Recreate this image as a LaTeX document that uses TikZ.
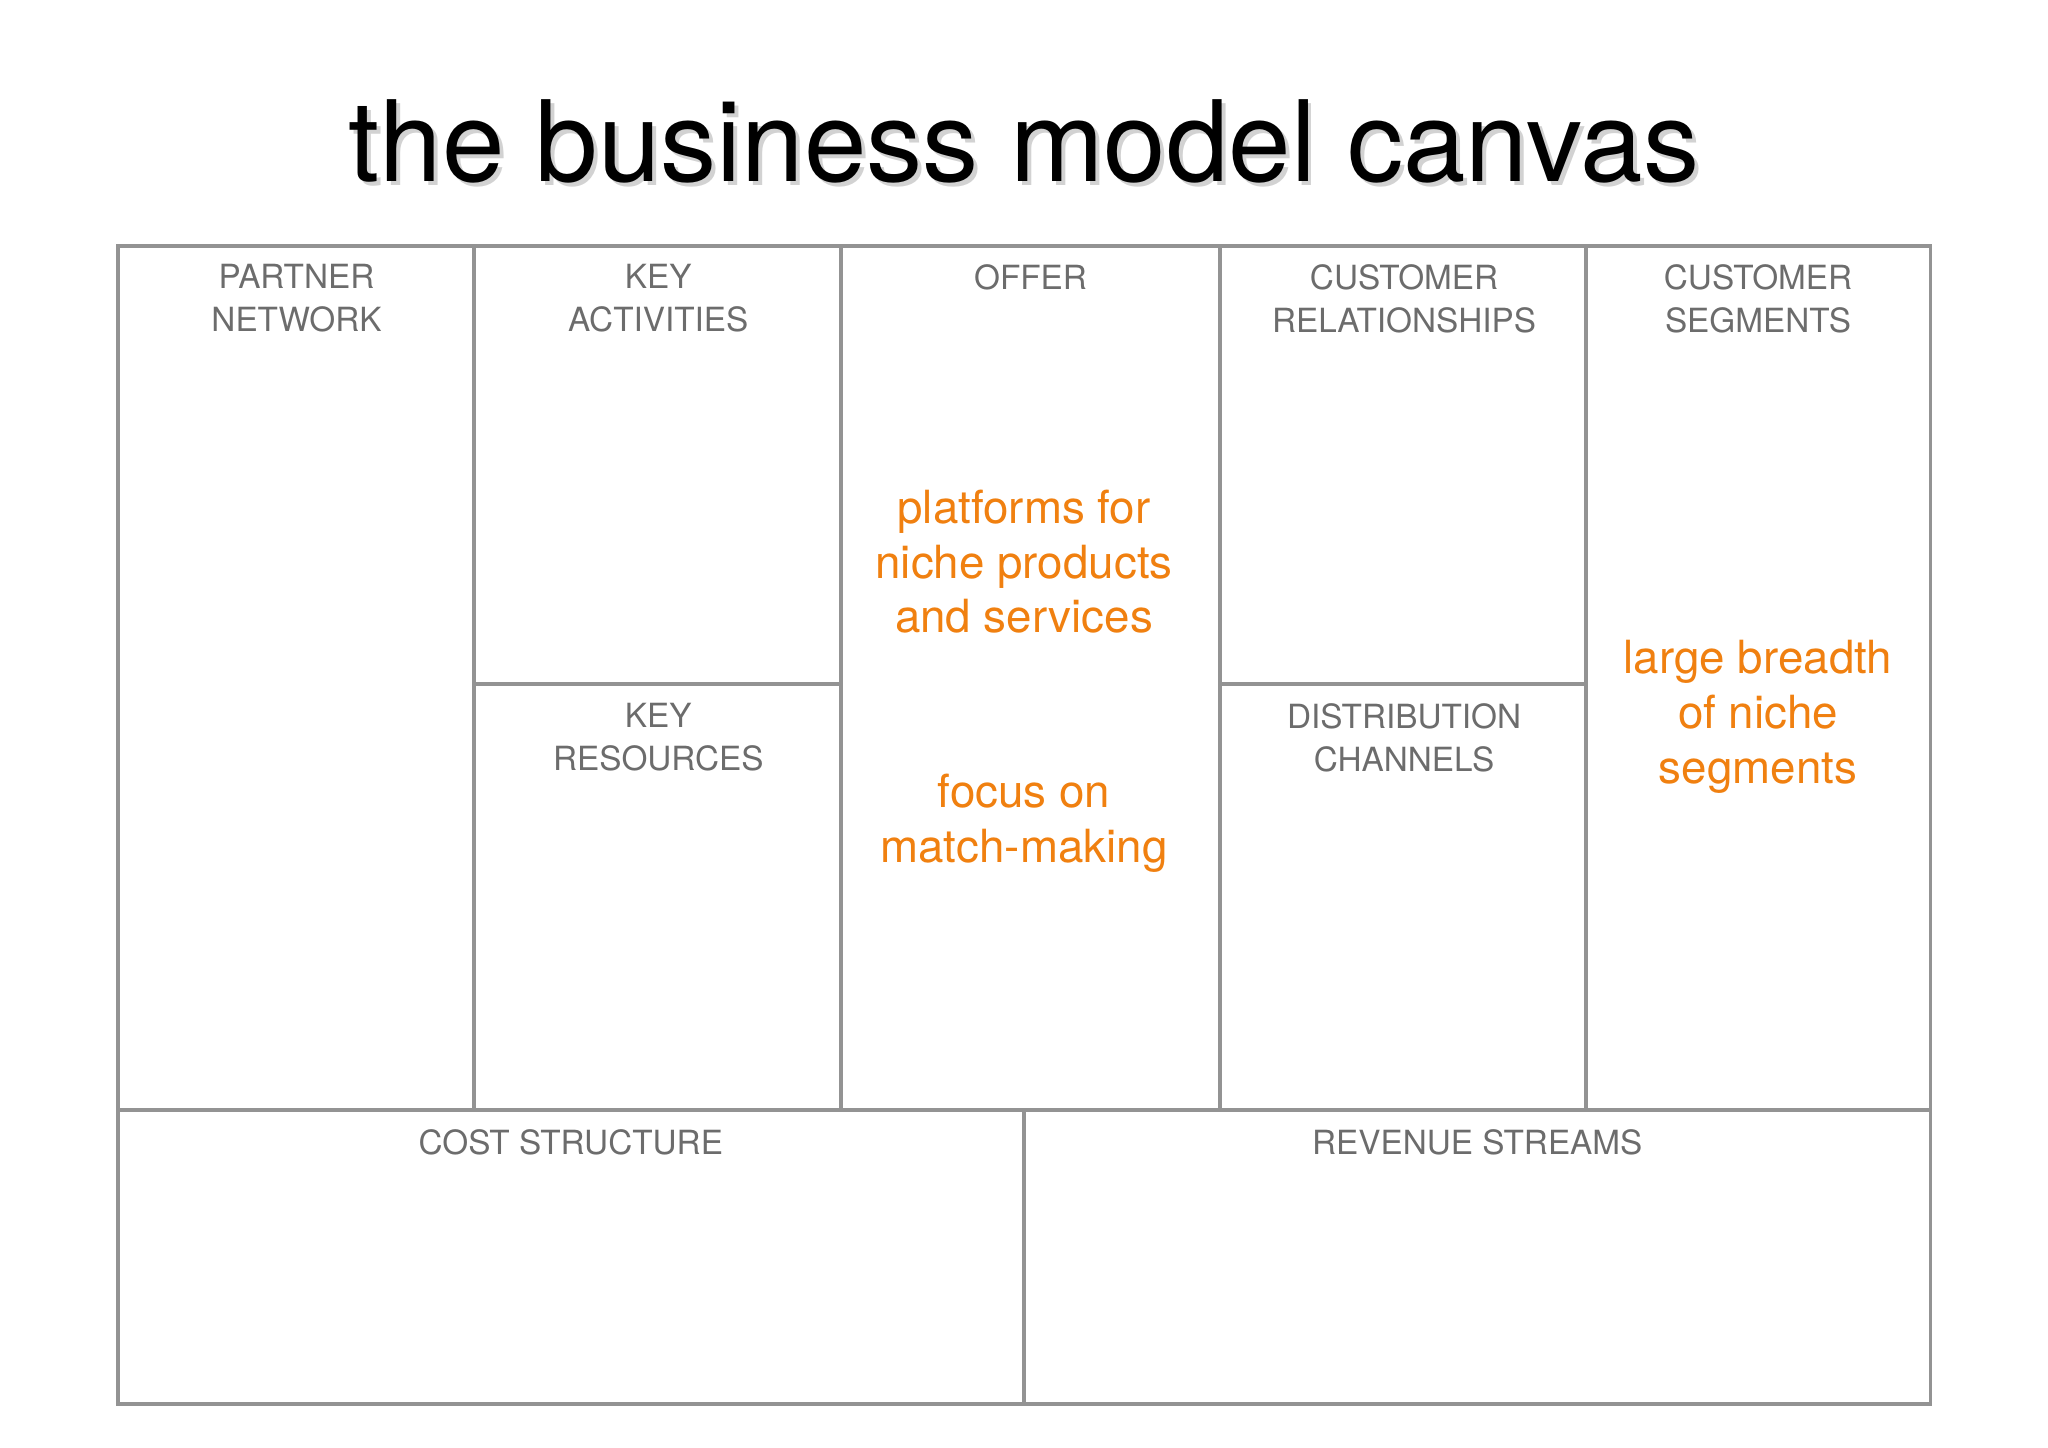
\documentclass[tikz,border=0pt]{standalone}
\usepackage{fontspec}
\setmainfont{TeX Gyre Heros}
\begin{document}
\begin{tikzpicture}[x=1pt,y=-1pt,
  ln/.style={draw=gray!85,line width=3pt},
  lab/.style={font=\fontsize{25.5}{33}\selectfont,text=gray!85!black,align=center,anchor=north},
  org/.style={font=\fontsize{35}{42}\selectfont,text={rgb,255:red,240;green,128;blue,16},align=center}]
\useasboundingbox (0,0) rectangle (1568,1108);
\node[font=\fontsize{86}{90}\selectfont,text=gray!35] (tsh) at (787,111) {the business model canvas};
\node[font=\fontsize{86}{90}\selectfont] (title) at (784,108) {the business model canvas};
\draw[ln] (90,188) rectangle (1478,1075);
\draw[ln] (90,850) -- (1478,850);
\draw[ln] (363,188) -- (363,850);
\draw[ln] (644,188) -- (644,850);
\draw[ln] (934,188) -- (934,850);
\draw[ln] (1214,188) -- (1214,850);
\draw[ln] (363,524) -- (644,524);
\draw[ln] (934,524) -- (1214,524);
\draw[ln] (784,850) -- (784,1075);
\node[lab] (pn) at (227,199) {PARTNER\\NETWORK};
\node[lab] (ka) at (504,199) {KEY\\ACTIVITIES};
\node[lab] (kr) at (504,535) {KEY\\RESOURCES};
\node[lab] (of) at (789,199) {OFFER};
\node[lab] (cr) at (1075,199) {CUSTOMER\\RELATIONSHIPS};
\node[lab] (dc) at (1075,535) {DISTRIBUTION\\CHANNELS};
\node[lab] (cs) at (1346,199) {CUSTOMER\\SEGMENTS};
\node[lab] (co) at (437,861) {COST STRUCTURE};
\node[lab] (rs) at (1131,861) {REVENUE STREAMS};
\node[org] (o1) at (784,430) {platforms for\\niche products\\and services};
\node[org] (o2) at (784,630) {focus on\\match-making};
\node[org] (o3) at (1346,549) {large breadth\\of niche\\segments};
\end{tikzpicture}
\end{document}
